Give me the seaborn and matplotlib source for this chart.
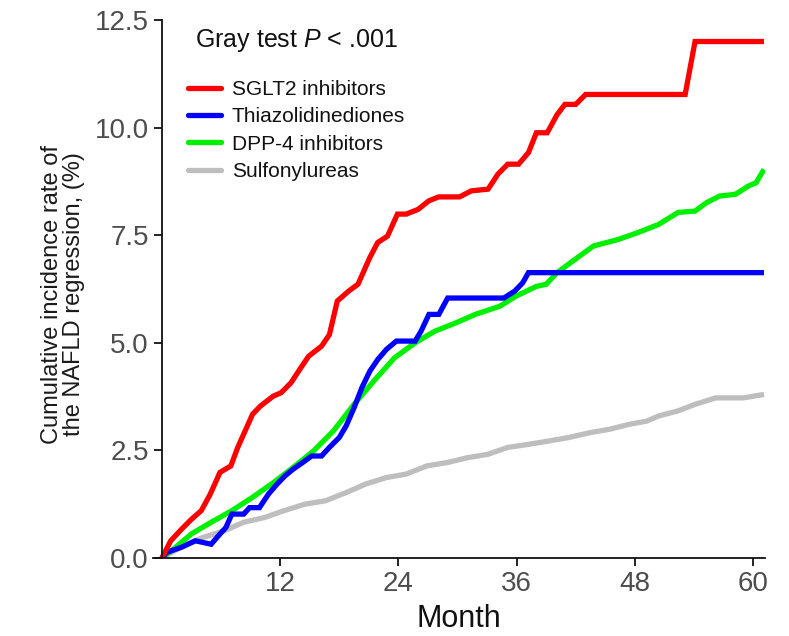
import matplotlib
matplotlib.use("Agg")
import matplotlib.pyplot as plt
import seaborn as sns
import pandas as pd

# Cumulative incidence curves (months, %)
sglt2_month = [0, 0.9, 2, 3, 4, 4.9, 5.9, 7, 7.7, 8.6, 9.2, 10, 11.3, 12.1, 13.1, 14.1,
               14.9, 16.2, 17, 17.8, 19, 19.9, 21.1, 21.9, 22.9, 23.9, 24.8, 26, 27.1,
               28.1, 30.2, 31.4, 33.1, 34.1, 35.1, 36.2, 37.2, 38, 39.1, 40.1, 40.9,
               42, 43, 53.1, 54.1, 61.1]
sglt2_rate = [0, 0.4, 0.67, 0.9, 1.1, 1.48, 1.99, 2.14, 2.57, 3.03, 3.34, 3.53, 3.76,
              3.84, 4.07, 4.42, 4.69, 4.92, 5.19, 5.97, 6.21, 6.36, 6.98, 7.33, 7.48,
              7.99, 7.99, 8.1, 8.3, 8.39, 8.39, 8.53, 8.57, 8.92, 9.15, 9.15, 9.42,
              9.88, 9.88, 10.3, 10.54, 10.54, 10.77, 10.77, 12.0, 12.0]

tzd_month = [0, 0.5, 2, 3.4, 5, 5.9, 6.5, 7.1, 8.3, 8.9, 9.9, 10.8, 11.7, 12.5, 13.3,
             14.3, 15.2, 16.2, 17, 18, 18.7, 19.5, 20.3, 21.1, 21.9, 22.8, 23.8, 25.7,
             26.3, 27.1, 28.1, 29, 34.7, 35.8, 36.6, 37.2, 61.1]
tzd_rate = [0, 0.13, 0.25, 0.4, 0.32, 0.56, 0.71, 1.02, 1.02, 1.17, 1.17, 1.48, 1.72,
            1.91, 2.06, 2.22, 2.37, 2.37, 2.57, 2.8, 3.07, 3.49, 3.96, 4.34, 4.61, 4.85,
            5.04, 5.04, 5.27, 5.66, 5.66, 6.04, 6.04, 6.2, 6.39, 6.63, 6.63]

dpp4_month = [0, 1.4, 3, 5, 7.1, 9.2, 11.3, 13.3, 15.4, 17.4, 19.5, 21.5, 23.6, 25.7,
              27.7, 29.8, 31.8, 34.3, 35.9, 38, 39, 40.1, 41.7, 43.8, 46.3, 48.3, 50.4,
              52.4, 54.1, 55.3, 56.6, 58.2, 59.5, 60.3, 61.1]
dpp4_rate = [0, 0.25, 0.56, 0.83, 1.1, 1.41, 1.75, 2.1, 2.49, 2.95, 3.57, 4.11, 4.65,
             5.0, 5.27, 5.46, 5.66, 5.85, 6.08, 6.31, 6.36, 6.63, 6.9, 7.25, 7.4, 7.56,
             7.75, 8.03, 8.06, 8.26, 8.41, 8.45, 8.64, 8.72, 9.03]

su_month = [0, 2.2, 4.2, 6.3, 8.3, 10.4, 12.4, 14.5, 16.6, 18.7, 20.7, 22.8, 24.8, 26.9,
            29, 31, 33.1, 35.1, 37.2, 39.3, 41.3, 43.4, 45.4, 47.5, 49.2, 50.4, 52.4,
            54.1, 56.2, 59, 61.1]
su_rate = [0, 0.29, 0.48, 0.63, 0.83, 0.94, 1.1, 1.25, 1.33, 1.52, 1.72, 1.87, 1.95,
           2.14, 2.22, 2.33, 2.41, 2.57, 2.64, 2.72, 2.8, 2.91, 2.99, 3.11, 3.18, 3.3,
           3.42, 3.57, 3.72, 3.72, 3.8]

groups = ["SGLT2 inhibitors", "Thiazolidinediones", "DPP-4 inhibitors", "Sulfonylureas"]
colors = ["#FF0000", "#0000FF", "#00F000", "#BEBEBE"]
x_ticks = [12, 24, 36, 48, 60]
y_ticks = [0.0, 2.5, 5.0, 7.5, 10.0, 12.5]

series = [(sglt2_month, sglt2_rate), (tzd_month, tzd_rate),
          (dpp4_month, dpp4_rate), (su_month, su_rate)]
frames = []
for name, (m, r) in zip(groups, series):
    frames.append(pd.DataFrame({"Month": m, "Rate": r, "Group": name}))
df = pd.concat(frames, ignore_index=True)

sns.set_style("white")
plt.rcParams["font.family"] = ["Liberation Sans", "DejaVu Sans"]
plt.rcParams["mathtext.fontset"] = "custom"
plt.rcParams["mathtext.rm"] = "Liberation Sans"
plt.rcParams["mathtext.it"] = "Liberation Sans:italic"

W, H = 789, 636
fig = plt.figure(figsize=(W / 100, H / 100), dpi=100)
ax = fig.add_axes([153 / W, 78 / H, 612 / W, 538 / H])

# gray first so the colored curves sit on top
order = ["Sulfonylureas", "DPP-4 inhibitors", "Thiazolidinediones", "SGLT2 inhibitors"]
for name in order:
    i = groups.index(name)
    sns.lineplot(data=df[df["Group"] == name], x="Month", y="Rate", color=colors[i],
                 linewidth=3.8, ax=ax, legend=False, estimator=None, sort=False,
                 solid_capstyle="butt", solid_joinstyle="miter")

ax.set_xlim(-0.9, 61.2)
ax.set_ylim(0, 12.5)
ax.spines["left"].set_position(("data", 0))
ax.spines["top"].set_visible(False)
ax.spines["right"].set_visible(False)
for s in ("left", "bottom"):
    ax.spines[s].set_linewidth(1.3)
    ax.spines[s].set_color("#111111")

ax.set_xticks(x_ticks)
ax.set_yticks(y_ticks)
ax.set_yticklabels([f"{v:.1f}" for v in y_ticks])
ax.tick_params(axis="both", direction="out", length=5.5, width=1.3, color="#111111",
               labelsize=20, labelcolor="#4D4D4D", pad=4, left=True, bottom=True)

ax.set_xlabel("Month", fontsize=22, color="#111111", labelpad=5)
ax.set_ylabel("Cumulative incidence rate of\nthe NAFLD regression, (%)", fontsize=17,
              color="#1A1A1A", linespacing=1.0)
ax.yaxis.set_label_coords(-0.111, 0.49)

# annotation placed in figure pixels (origin bottom-left)
fig.text(195 / W, 1 - 40 / H, r"Gray test $\it{P}$ < .001", fontsize=18,
         color="#111111", va="center", ha="left")

handles = [plt.Line2D([], [], color=c, linewidth=3.8) for c in colors]
leg = ax.legend(handles, groups, loc="upper left", bbox_to_anchor=(35 / 612, 1 - 60 / 538),
                frameon=False, fontsize=15, handlelength=1.6, handletextpad=0.5,
                labelspacing=0.4, borderaxespad=0, borderpad=0)
for t in leg.get_texts():
    t.set_color("#111111")

fig.savefig("out.png", dpi=100)
